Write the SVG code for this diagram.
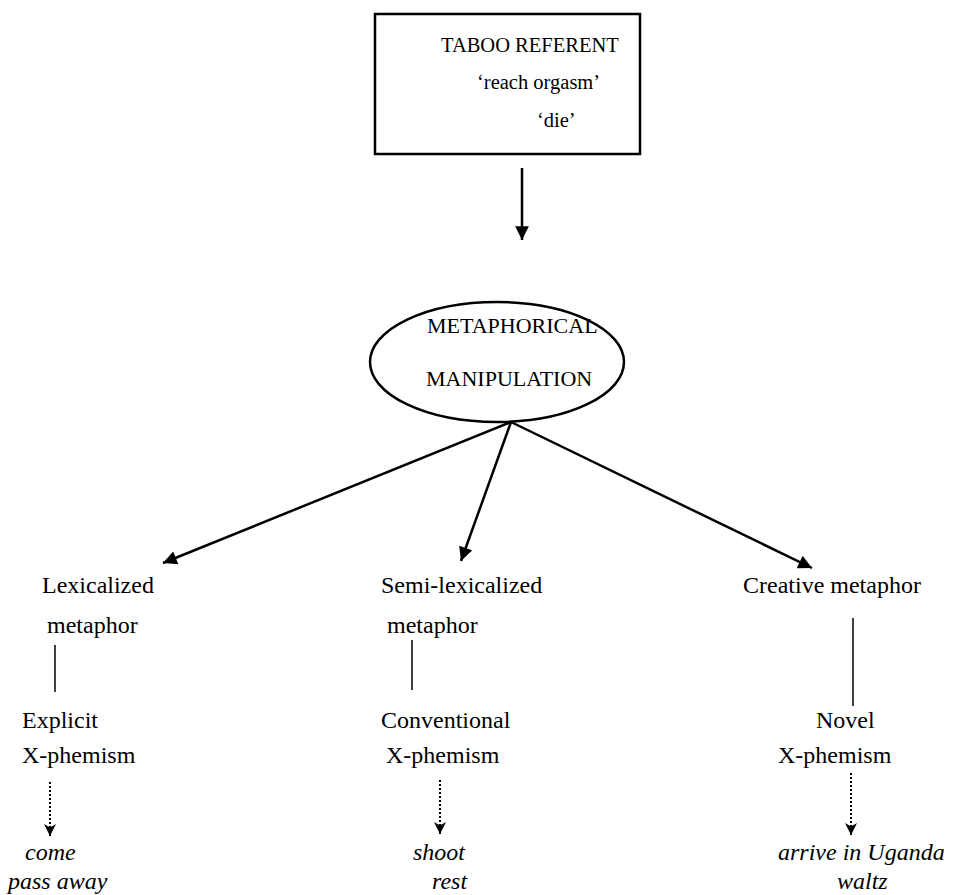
<svg xmlns="http://www.w3.org/2000/svg" width="979" height="895" viewBox="0 0 979 895">
<style>
text{font-family:"Liberation Serif","Times New Roman",serif;font-size:24px;fill:#000}
.it{font-style:italic}
.sm{font-size:20.5px}
.md{font-size:22px}
.box{fill:#fff;stroke:#000;stroke-width:2.5}
.ln{stroke:#000;stroke-width:2.5;fill:none}
.vl{stroke:#000;stroke-width:1.5;fill:none}
.dot{stroke:#000;stroke-width:2;fill:none;stroke-dasharray:2 2}
</style>
<defs>
<marker id="ah" viewBox="0 0 10 10" refX="10" refY="5" markerWidth="6" markerHeight="5.5" markerUnits="strokeWidth" orient="auto"><path d="M0,0 L10,5 L0,10 z" fill="#000"/></marker>
<marker id="ah2" viewBox="0 0 10 10" refX="10" refY="5" markerWidth="6" markerHeight="6" markerUnits="strokeWidth" orient="auto"><path d="M0,0 L10,5 L0,10 L3,5 z" fill="#000"/></marker>
</defs>
<g id="connectors">
<line class="ln" x1="522" y1="168" x2="522" y2="240" marker-end="url(#ah)"/>
<line class="ln" x1="511" y1="422" x2="163" y2="563" marker-end="url(#ah)"/>
<line class="ln" x1="511" y1="422" x2="461" y2="561" marker-end="url(#ah)"/>
<line class="ln" x1="511" y1="422" x2="812" y2="568" marker-end="url(#ah)"/>
<line class="vl" x1="55" y1="645" x2="55" y2="692"/>
<line class="vl" x1="412" y1="640" x2="412" y2="690"/>
<line class="vl" x1="853" y1="618" x2="853" y2="706"/>
<line class="dot" x1="50" y1="782" x2="50" y2="836" marker-end="url(#ah2)"/>
<line class="dot" x1="440" y1="780" x2="440" y2="834" marker-end="url(#ah2)"/>
<line class="dot" x1="851" y1="773" x2="851" y2="835" marker-end="url(#ah2)"/>
</g>
<g id="taboo">
<rect class="box" x="375" y="14" width="265" height="140"/>
<text class="sm" x="441" y="52">TABOO REFERENT</text>
<text class="sm" x="477" y="89">‘reach orgasm’</text>
<text class="sm" x="537" y="127">‘die’</text>
</g>
<g id="metaphorical">
<ellipse class="box" cx="497" cy="362" rx="127" ry="60"/>
<text class="md" x="427" y="333">METAPHORICAL</text>
<text class="md" x="426" y="386">MANIPULATION</text>
</g>
<g id="lexicalized">
<text x="42" y="593">Lexicalized</text>
<text x="47" y="633">metaphor</text>
</g>
<g id="semi">
<text x="381" y="593">Semi-lexicalized</text>
<text x="387" y="633">metaphor</text>
</g>
<g id="creative">
<text x="743" y="593">Creative metaphor</text>
</g>
<g id="explicit">
<text x="22" y="728">Explicit</text>
<text x="22" y="763">X-phemism</text>
</g>
<g id="conventional">
<text x="381" y="728">Conventional</text>
<text x="386" y="763">X-phemism</text>
</g>
<g id="novel">
<text x="816" y="728">Novel</text>
<text x="778" y="763">X-phemism</text>
</g>
<g id="ex1">
<text class="it" x="25" y="860">come</text>
<text class="it" x="8" y="889">pass away</text>
</g>
<g id="ex2">
<text class="it" x="413" y="860">shoot</text>
<text class="it" x="432" y="889">rest</text>
</g>
<g id="ex3">
<text class="it" x="778" y="860">arrive in Uganda</text>
<text class="it" x="837" y="889">waltz</text>
</g>
</svg>
